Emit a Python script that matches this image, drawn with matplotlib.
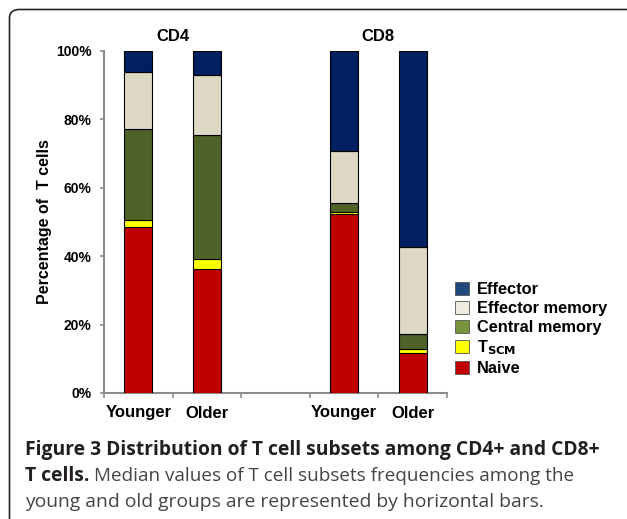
import numpy as np
import matplotlib
matplotlib.use("Agg")
import matplotlib.pyplot as plt
from matplotlib.patches import FancyBboxPatch, Patch

# --- data (percent of T cells) ---
groups = ["Younger", "Older", "", "Younger", "Older"]
bar_pos = [0, 1, 3, 4]
naive = [48.4, 36.3, 52.2, 11.6]
tscm = [2.1, 2.8, 0.8, 1.3]
central_memory = [26.6, 36.2, 2.6, 4.4]
effector_memory = [16.9, 17.7, 15.3, 25.5]
effector = [6.0, 7.0, 29.1, 57.2]
panel_titles = ["CD4", "CD8"]
y_ticks = [0, 20, 40, 60, 80, 100]

series = [
    ("Naive", naive, "#C00000", "#C00000"),
    ("T$_\\mathbf{SCM}$", tscm, "#FFFF00", "#FFFF00"),
    ("Central memory", central_memory, "#4F6228", "#77933C"),
    ("Effector memory", effector_memory, "#DDD9C4", "#EEECE1"),
    ("Effector", effector, "#002060", "#1F497D"),
]

W, H = 627, 519
fig = plt.figure(figsize=(W / 100, H / 100), dpi=100)

# rounded frame around the figure panel (runs off right and bottom edges)
frame = FancyBboxPatch((9.5 / W, -0.2), 1.2, 1.2 - 9.5 / H,
                       boxstyle="round,pad=0,rounding_size=0.016",
                       transform=fig.transFigure, fill=False,
                       edgecolor="#262626", linewidth=1.2)
fig.patches.append(frame)

ax = fig.add_axes([104 / W, 1 - 393 / H, (447 - 104) / W, (393 - 51) / H])

bottom = np.zeros(len(bar_pos))
for name, vals, col, _ in series:
    ax.bar(bar_pos, vals, width=0.41, bottom=bottom, color=col,
           edgecolor="black", linewidth=0.8, zorder=3)
    bottom += np.array(vals)

grey = "#8C8C8C"
ax.set_xlim(-0.5, 4.5)
ax.set_ylim(0, 100)
ax.set_yticks(y_ticks)
ax.set_yticklabels([f"{t}%" for t in y_ticks], fontsize=10, fontweight="bold",
                   family="Liberation Sans")
ax.set_xticks(np.arange(-0.5, 5, 1.0))
ax.set_xticklabels([])
ax.set_xticks(range(len(groups)), minor=True)
ax.set_xticklabels(groups, minor=True, fontsize=12, fontweight="bold",
                   family="Liberation Sans")
ax.tick_params(axis="x", which="minor", length=0, pad=9)
ax.tick_params(axis="x", which="major", length=3.5, color=grey, width=1.2)
ax.tick_params(axis="y", length=3, color=grey, width=1.2, pad=6)
for s in ["top", "right"]:
    ax.spines[s].set_visible(False)
for s in ["left", "bottom"]:
    ax.spines[s].set_color(grey)
    ax.spines[s].set_linewidth(1.5)

ax.set_ylabel("Percentage of  T cells", fontsize=11.5, fontweight="bold",
              family="Liberation Sans", labelpad=3)

for t, x in zip(panel_titles, [0.5, 3.5]):
    ax.text(x, 102, t, ha="center", va="bottom", fontsize=12,
            fontweight="bold", family="Liberation Sans")

handles = [Patch(facecolor=lc, edgecolor="#555555", linewidth=0.6, label=name)
           for name, _, _, lc in series[::-1]]
leg = fig.legend(handles=handles, loc="upper left",
                 bbox_to_anchor=(455 / W, 1 - 282 / H), frameon=False,
                 prop={"family": "Liberation Sans", "weight": "bold", "size": 11.8},
                 handlelength=0.85, handleheight=0.85, handletextpad=0.5,
                 labelspacing=0.22, borderpad=0, borderaxespad=0)

# caption
cap_font = "Open Sans"
cap_size = 13.9
fig.text(25 / W, 1 - 455 / H, "Figure 3 Distribution of T cell subsets among CD4+ and CD8+",
         fontsize=cap_size, fontweight="bold", family=cap_font, color="#231F20")
t_bold = fig.text(25 / W, 1 - 481 / H, "T cells.", fontsize=cap_size, fontweight="bold",
                  family=cap_font, color="#231F20")
fig.canvas.draw()
bb = t_bold.get_window_extent()
fig.text((bb.x1 + 5) / W, 1 - 481 / H,
         "Median values of T cell subsets frequencies among the",
         fontsize=cap_size - 0.3, family=cap_font, color="#444444")
fig.text(25 / W, 1 - 507 / H,
         "young and old groups are represented by horizontal bars.",
         fontsize=cap_size, family=cap_font, color="#444444")

fig.savefig("out.png", dpi=100)
